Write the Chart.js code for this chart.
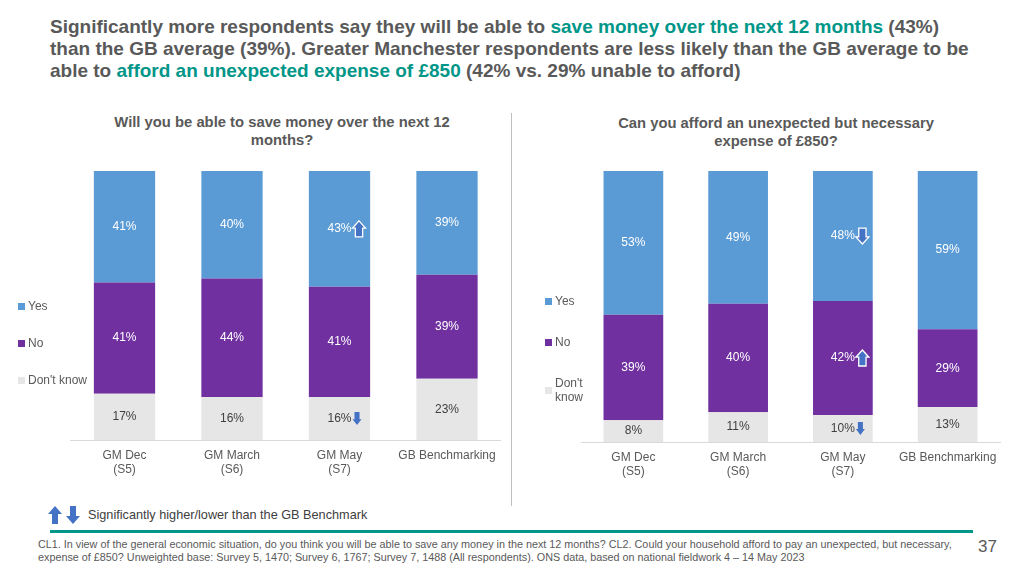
<!DOCTYPE html>
<html>
<head>
<meta charset="utf-8">
<script src="https://cdn.jsdelivr.net/npm/chart.js@4.4.0/dist/chart.umd.min.js"></script>
<style>
  body { margin: 0; width: 1024px; height: 576px; position: relative; overflow: hidden; background: #fff;
         font-family: "Liberation Sans", Arial, sans-serif; color: #595959; }
  .abs { position: absolute; }
  #headline { left: 50px; top: 16px; font-size: 19px; font-weight: bold; line-height: 22px; white-space: nowrap; }
  #headline span { color: #009688; }
  .qtitle { font-size: 14.8px; font-weight: bold; line-height: 18px; text-align: center; white-space: nowrap; }
  .legend { font-size: 12px; display: flex; flex-direction: column; }
  .legend div { display: flex; align-items: center; line-height: 14px; }
  .legend i { display: inline-block; width: 7px; height: 7px; margin-right: 3px; flex: none; }
  #sep { left: 511px; top: 113px; width: 1px; height: 393px; background: #bfbfbf; }
  #rule { left: 50px; top: 530px; width: 923px; height: 3px; background: #009688; }
  #key { left: 88px; top: 508px; font-size: 12.7px; color: #404040; }
  #note { left: 38px; top: 538px; font-size: 10.8px; line-height: 13px; width: 940px; white-space: nowrap; }
  #page { left: 978px; top: 537px; font-size: 17px; }
</style>
</head>
<body>
<div id="headline" class="abs">Significantly more respondents say they will be able to <span>save money over the next 12 months</span> (43%)<br>than the GB average (39%). Greater Manchester respondents are less likely than the GB average to be<br>able to <span>afford an unexpected expense of £850</span> (42% vs. 29% unable to afford)</div>

<div class="abs qtitle" style="left:80px;top:113px;width:404px">Will you be able to save money over the next 12<br>months?</div>
<div class="abs qtitle" style="left:576px;top:114px;width:400px">Can you afford an unexpected but necessary<br>expense of £850?</div>

<canvas id="saveChart" class="abs" style="left:0;top:160px" width="510" height="330"></canvas>
<canvas id="affordChart" class="abs" style="left:512px;top:160px" width="500" height="330"></canvas>

<div id="saveLegend" class="abs legend" style="left:18px;top:299px;gap:23px"></div>
<div id="affordLegend" class="abs legend" style="left:545px;top:294px;gap:27px"></div>

<div id="sep" class="abs"></div>

<svg class="abs" style="left:48px;top:506px" width="34" height="19">
  <polygon points="7,0 14,8 10,8 10,18 4,18 4,8 0,8" fill="#4472c4"/>
  <polygon points="25,18 32,10 28,10 28,0 22,0 22,10 18,10" fill="#4472c4"/>
</svg>
<div id="key" class="abs">Significantly higher/lower than the GB Benchmark</div>
<div id="rule" class="abs"></div>
<div id="note" class="abs">CL1. In view of the general economic situation, do you think you will be able to save any money in the next 12 months? CL2. Could your household afford to pay an unexpected, but necessary,<br>expense of £850? Unweighted base: Survey 5, 1470; Survey 6, 1767; Survey 7, 1488 (All respondents). ONS data, based on national fieldwork 4 – 14 May 2023</div>
<div id="page" class="abs">37</div>

<script>
const categories = [['GM Dec', '(S5)'], ['GM March', '(S6)'], ['GM May', '(S7)'], 'GB Benchmarking'];

const saveYes = [41, 40, 43, 39];
const saveNo = [41, 44, 41, 39];
const saveDontKnow = [17, 16, 16, 23];
// 1 = significantly higher, -1 = significantly lower than GB
const saveYesSig = [0, 0, 1, 0];
const saveNoSig = [0, 0, 0, 0];
const saveDontKnowSig = [0, 0, -1, 0];

const affordYes = [53, 49, 48, 59];
const affordNo = [39, 40, 42, 29];
const affordDontKnow = [8, 11, 10, 13];
const affordYesSig = [0, 0, -1, 0];
const affordNoSig = [0, 0, 1, 0];
const affordDontKnowSig = [0, 0, -1, 0];

const FONT = '"Liberation Sans", Arial, sans-serif';
const BLUE = '#5b9bd5', PURPLE = '#7030a0', GREY = '#e7e6e6', ARROW = '#4472c4';

// bars are drawn as 100% stacked, so each column is scaled to its own total
function shares(series, i) {
  return series[i].map((v, j) => {
    const total = series.reduce((s, arr) => s + arr[j], 0);
    return v / total * 100;
  });
}

function drawArrow(ctx, x, y, dir, outlined) {
  const w = outlined ? 13 : 9, h = outlined ? 16 : 13;
  const sw = w * 0.28, hh = h * 0.45;
  ctx.save();
  ctx.translate(x + w / 2, y);
  if (dir < 0) ctx.scale(1, -1);
  ctx.beginPath();
  ctx.moveTo(0, -h / 2);
  ctx.lineTo(w / 2, -h / 2 + hh);
  ctx.lineTo(sw, -h / 2 + hh);
  ctx.lineTo(sw, h / 2);
  ctx.lineTo(-sw, h / 2);
  ctx.lineTo(-sw, -h / 2 + hh);
  ctx.lineTo(-w / 2, -h / 2 + hh);
  ctx.closePath();
  ctx.fillStyle = ARROW;
  ctx.fill();
  if (outlined) {
    ctx.strokeStyle = '#fff';
    ctx.lineWidth = 1.3;
    ctx.stroke();
  }
  ctx.restore();
}

const segmentLabels = {
  id: 'segmentLabels',
  afterDatasetsDraw(chart) {
    const ctx = chart.ctx;
    chart.data.datasets.forEach((ds, i) => {
      chart.getDatasetMeta(i).data.forEach((bar, j) => {
        const y = (bar.y + bar.base) / 2;
        const txt = ds.rawValues[j] + '%';
        ctx.save();
        ctx.font = '12px ' + FONT;
        ctx.fillStyle = ds.labelColor;
        ctx.textAlign = 'center';
        ctx.textBaseline = 'middle';
        ctx.fillText(txt, bar.x, y);
        if (ds.sig[j]) {
          const tw = ctx.measureText(txt).width;
          drawArrow(ctx, bar.x + tw / 2 + 1, y, ds.sig[j], ds.labelColor === '#fff');
        }
        ctx.restore();
      });
    });
  }
};

function makeChart(id, yes, no, dk, sigs, pad) {
  const series = [dk, no, yes];
  const datasets = [
    { label: "Don't know", data: shares(series, 0), rawValues: dk, sig: sigs[2], backgroundColor: GREY, labelColor: '#404040' },
    { label: 'No', data: shares(series, 1), rawValues: no, sig: sigs[1], backgroundColor: PURPLE, labelColor: '#fff' },
    { label: 'Yes', data: shares(series, 2), rawValues: yes, sig: sigs[0], backgroundColor: BLUE, labelColor: '#fff' }
  ];
  return new Chart(document.getElementById(id), {
    type: 'bar',
    data: { labels: categories, datasets: datasets },
    options: {
      responsive: false,
      animation: false,
      layout: { padding: pad },
      datasets: { bar: { barPercentage: 0.57, categoryPercentage: 1 } },
      plugins: { legend: { display: false }, tooltip: { enabled: false } },
      scales: {
        x: {
          stacked: true,
          grid: { display: false, drawTicks: false },
          border: { color: '#d9d9d9' },
          ticks: { color: '#595959', font: { size: 12, family: FONT }, padding: 8, maxRotation: 0, autoSkip: false },
          afterFit(scale) { scale.height = 40; }
        },
        y: { stacked: true, display: false, min: 0, max: 100 }
      }
    },
    plugins: [segmentLabels]
  });
}

function buildLegend(id, labels) {
  const el = document.getElementById(id);
  [['Yes', BLUE], ['No', PURPLE], [labels, GREY]].forEach(([text, color]) => {
    const row = document.createElement('div');
    row.innerHTML = '<i style="background:' + color + '"></i><span>' + text + '</span>';
    el.appendChild(row);
  });
}

makeChart('saveChart', saveYes, saveNo, saveDontKnow, [saveYesSig, saveNoSig, saveDontKnowSig],
  { left: 70.75, right: 9.25, top: 11, bottom: 10 });
makeChart('affordChart', affordYes, affordNo, affordDontKnow, [affordYesSig, affordNoSig, affordDontKnowSig],
  { left: 69, right: 12, top: 11, bottom: 8 });

buildLegend('saveLegend', "Don't know");
buildLegend('affordLegend', "Don't<br>know");
</script>
</body>
</html>
